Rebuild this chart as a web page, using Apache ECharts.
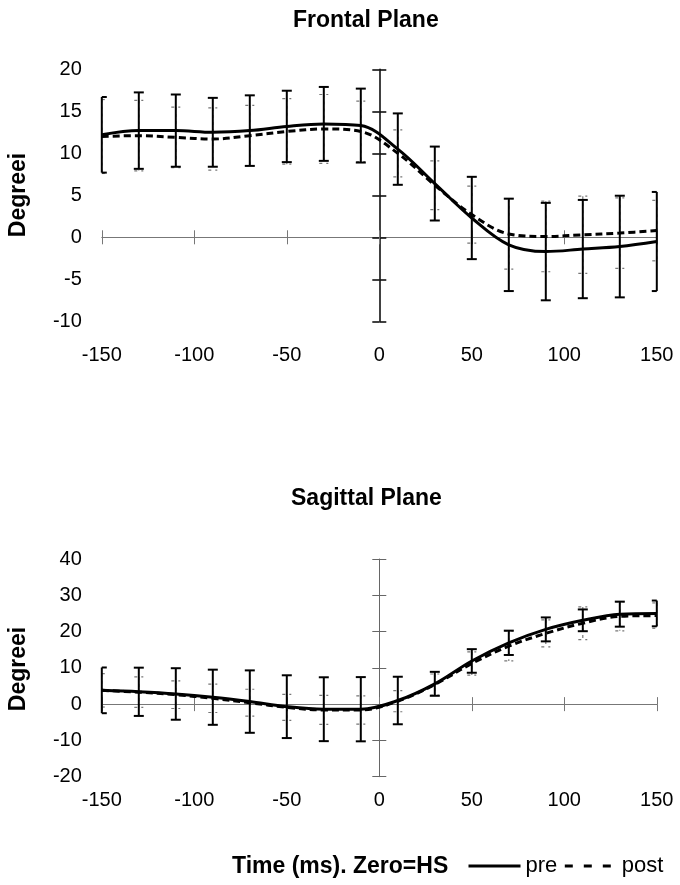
<!DOCTYPE html>
<html>
<head>
<meta charset="utf-8">
<script src="https://cdn.jsdelivr.net/npm/echarts@6/dist/echarts.min.js"></script>
<style>
html,body{margin:0;padding:0;background:#fff;}
#chart{width:680px;height:885px;}
</style>
</head>
<body>
<div id="chart"></div>
<script>
// ---- data ----
const times = [-150,-130,-110,-90,-70,-50,-30,-10,10,30,50,70,90,110,130,150];

const frontalPreMean  = [12.2,12.7,12.7,12.5,12.7,13.2,13.5,13.3,10.5,6.4,2.3,-0.9,-1.7,-1.4,-1.1,-0.5];
const frontalPreSD    = [4.5,4.55,4.3,4.1,4.2,4.25,4.4,4.4,4.25,4.4,4.9,5.5,5.8,5.85,6.05,5.9];
const frontalPostMean = [12.0,12.1,11.9,11.7,12.1,12.6,12.9,12.6,10.0,6.2,2.7,0.4,0.1,0.3,0.5,0.8];
const frontalPostSD   = [4.4,4.2,3.6,3.7,3.6,3.9,4.1,3.6,2.8,2.9,3.4,4.2,4.2,4.6,4.2,3.6];

const sagittalPreMean  = [3.8,3.4,2.8,1.9,0.7,-0.7,-1.4,-1.4,1.0,5.6,11.9,16.9,20.6,23.1,24.8,25.0];
const sagittalPreSD    = [6.3,6.65,7.1,7.6,8.6,8.65,8.8,8.85,6.55,3.3,3.25,3.35,3.3,3.0,3.45,3.55];
const sagittalPostMean = [3.8,3.3,2.6,1.6,0.4,-0.9,-1.6,-1.6,0.8,5.4,11.2,16.0,19.5,22.3,24.2,24.4];
const sagittalPostSD   = [4.6,4.2,3.8,3.9,3.7,3.6,4.0,3.9,2.9,2.9,3.2,4.1,3.7,4.5,4.0,3.5];

const titles = ['Frontal Plane','Sagittal Plane'];
const yLabel = 'Degreei';
const xLabel = 'Time (ms). Zero=HS';
const seriesNames = ['pre','post'];

// ---- helpers ----
const FONT = '"Liberation Sans", Arial, Helvetica, sans-serif';

function pairs(mean){ return times.map((t,i)=>[t,mean[i]]); }
function bars(mean,sd){ return times.map((t,i)=>[t,mean[i]-sd[i],mean[i]+sd[i]]); }

function errRender(color,width,dash,capHalf){
  return function(params, api){
    const x = api.value(0), lo = api.value(1), hi = api.value(2);
    const pHi = api.coord([x,hi]), pLo = api.coord([x,lo]);
    const cs = params.coordSys;
    const xl = Math.max(cs.x, pHi[0]-capHalf), xr = Math.min(cs.x+cs.width, pHi[0]+capHalf);
    const style = {stroke:color, lineWidth:width, lineDash:dash, fill:null};
    return {type:'group', children:[
      {type:'line', shape:{x1:pHi[0],y1:pHi[1],x2:pLo[0],y2:pLo[1]}, style:style},
      {type:'line', shape:{x1:xl,y1:pHi[1],x2:xr,y2:pHi[1]}, style:style},
      {type:'line', shape:{x1:xl,y1:pLo[1],x2:xr,y2:pLo[1]}, style:style}
    ]};
  };
}

const grids = [
  {left:101.8, width:555, top:69.3, height:252, containLabel:false, outerBoundsMode:'none'},
  {left:101.8, width:555, top:559, height:217.7, containLabel:false, outerBoundsMode:'none'}
];
const yRanges = [{min:-10,max:20,interval:5},{min:-20,max:40,interval:10}];
const xLabelMargin = [24, 14];
const yAxisColor = ['#111','#666'];
const yAxisWidth = [1.6,1];

const xAxes = [], yAxes = [];
grids.forEach((g,gi)=>{
  const common = {type:'value', gridIndex:gi, min:-150, max:150, interval:50, splitLine:{show:false}};
  xAxes.push(Object.assign({}, common, {
    position:'bottom',
    axisLine:{show:true, onZero:true, lineStyle:{color:'#777', width:1}},
    axisTick:{show:true, length:7, lineStyle:{color:'#777', width:1}},
    axisLabel:{show:true, margin:xLabelMargin[gi], fontSize:20, color:'#000', fontFamily:FONT}
  }));
  xAxes.push(Object.assign({}, common, {
    position:'top',
    axisLine:{show:false, onZero:true},
    axisTick:{show:true, length:7, lineStyle:{color:'#777', width:1}},
    axisLabel:{show:false}
  }));
  const yc = Object.assign({type:'value', gridIndex:gi, splitLine:{show:false}}, yRanges[gi]);
  yAxes.push(Object.assign({}, yc, {
    position:'left',
    axisLine:{show:true, onZero:true, lineStyle:{color:yAxisColor[gi], width:yAxisWidth[gi]}},
    axisTick:{show:true, length:7, lineStyle:{color:yAxisColor[gi], width:yAxisWidth[gi]}},
    axisLabel:{show:true, margin:20, fontSize:20, color:'#000', fontFamily:FONT, align:'right'}
  }));
  yAxes.push(Object.assign({}, yc, {
    position:'right',
    axisLine:{show:false, onZero:true},
    axisTick:{show:true, length:7, lineStyle:{color:yAxisColor[gi], width:yAxisWidth[gi]}},
    axisLabel:{show:false}
  }));
});

const datasets = [
  {preM:frontalPreMean, preS:frontalPreSD, postM:frontalPostMean, postS:frontalPostSD},
  {preM:sagittalPreMean, preS:sagittalPreSD, postM:sagittalPostMean, postS:sagittalPostSD}
];

const series = [];
datasets.forEach((d,gi)=>{
  const xi = gi*2, yi = gi*2;
  series.push({type:'custom', name:'postErr', xAxisIndex:xi, yAxisIndex:yi, silent:true, z:2,
    renderItem: errRender('#777',1.2,[3,4],4.5), data: bars(d.postM,d.postS)});
  series.push({type:'custom', name:'preErr', xAxisIndex:xi, yAxisIndex:yi, silent:true, z:3,
    renderItem: errRender('#000',2,null,5), data: bars(d.preM,d.preS)});
  series.push({type:'line', name:'post', xAxisIndex:xi, yAxisIndex:yi, z:4, smooth:0.35,
    symbol:'none', showSymbol:false, lineStyle:{color:'#000', width:3, type:[7,4]}, itemStyle:{color:'#000'},
    data: pairs(d.postM)});
  series.push({type:'line', name:'pre', xAxisIndex:xi, yAxisIndex:yi, z:5, smooth:0.35,
    symbol:'none', showSymbol:false, lineStyle:{color:'#000', width:3, type:'solid'}, itemStyle:{color:'#000'},
    data: pairs(d.preM)});
});

const option = {
  animation:false,
  backgroundColor:'#fff',
  title:[
    {text:titles[0], left:293, top:9, padding:0, textStyle:{fontSize:23, fontWeight:'bold', color:'#000', fontFamily:FONT}},
    {text:titles[1], left:291, top:487, padding:0, textStyle:{fontSize:23, fontWeight:'bold', color:'#000', fontFamily:FONT}}
  ],
  grid:grids,
  xAxis:xAxes,
  yAxis:yAxes,
  legend:{
    left:467, top:855, padding:0, itemWidth:52, itemHeight:14, itemGap:6,
    textStyle:{fontSize:22, color:'#000', fontFamily:FONT},
    data:[
      {name:seriesNames[0], itemStyle:{opacity:0}, lineStyle:{type:'solid', width:3, color:'#000'}},
      {name:seriesNames[1], itemStyle:{opacity:0}, lineStyle:{type:[8,11], width:3, color:'#000'}}
    ]
  },
  graphic:[
    {type:'text', x:19, y:195, rotation:Math.PI/2, style:{text:yLabel, fill:'#000', font:'bold 23px '+FONT, textAlign:'center', textVerticalAlign:'middle'}},
    {type:'text', x:19, y:669, rotation:Math.PI/2, style:{text:yLabel, fill:'#000', font:'bold 23px '+FONT, textAlign:'center', textVerticalAlign:'middle'}},
    {type:'text', x:232, y:867, style:{text:xLabel, fill:'#000', font:'bold 23px '+FONT, textAlign:'left', textVerticalAlign:'middle'}}
  ],
  series:series
};

const chart = echarts.init(document.getElementById('chart'), null, {renderer:'canvas'});
chart.setOption(option);
</script>
</body>
</html>
